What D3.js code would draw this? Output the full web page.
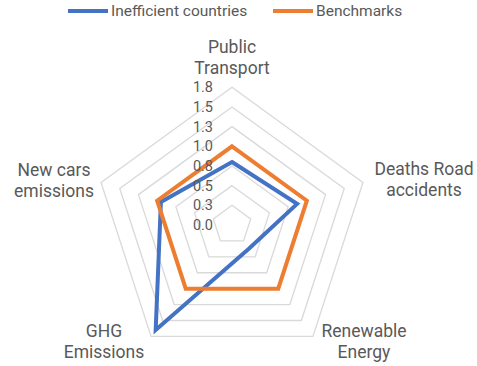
<!DOCTYPE html>
<html>
<head>
<meta charset="utf-8">
<script src="https://cdn.jsdelivr.net/npm/d3@7"></script>
<style>
  body { margin: 0; background: #fff; }
  text { font-family: Roboto, "Open Sans", sans-serif; fill: #595959; }
</style>
</head>
<body>
<svg id="radar"></svg>
<script>
// ---- DATA ---- //
const categories = ["Public Transport", "Deaths Road accidents", "Renewable Energy", "GHG Emissions", "New cars emissions"];
const categoryLines = [["Public", "Transport"], ["Deaths Road", "accidents"], ["Renewable", "Energy"], ["GHG", "Emissions"], ["New cars", "emissions"]];
const seriesNames = ["Inefficient countries", "Benchmarks"];
const inefficient = [0.8, 0.87, 0.37, 1.65, 0.95];
const benchmarks = [1.0, 1.0, 1.0, 1.0, 1.0];
const tickValues = [0, 0.25, 0.5, 0.75, 1.0, 1.25, 1.5, 1.75];
const tickLabels = ["0.0", "0.3", "0.5", "0.8", "1.0", "1.3", "1.5", "1.8"];
const colors = ["#4472C4", "#ED7D31"];

// ---- THE CHART ---- //
const width = 477, height = 366;
const cx = 232, cy = 225;

const svg = d3.select("#radar")
  .attr("width", width)
  .attr("height", height);

const g = svg.append("g")
  .attr("transform", "translate(" + cx + "," + cy + ")");

// radial scale
const rScale = d3.scaleLinear()
  .domain([0, 1.75])
  .range([0, 137.7]);

const angle = i => -Math.PI / 2 + i * 2 * Math.PI / categories.length;
const pt = (v, i) => [rScale(v) * Math.cos(angle(i)), rScale(v) * Math.sin(angle(i))];

// grid rings
g.selectAll(".ring")
  .data(tickValues.filter(t => t > 0))
  .enter().append("polygon")
    .attr("class", "ring")
    .attr("points", t => categories.map((c, i) => pt(t, i).join(",")).join(" "))
    .attr("fill", "none")
    .attr("stroke", "#D9D9D9")
    .attr("stroke-width", 1.3);

// series lines
const series = [inefficient, benchmarks];
g.selectAll(".series")
  .data(series)
  .enter().append("polygon")
    .attr("class", "series")
    .attr("points", d => d.map((v, i) => pt(v, i).join(",")).join(" "))
    .attr("fill", "none")
    .attr("stroke", (d, i) => colors[i])
    .attr("stroke-width", 4)
    .attr("stroke-linejoin", "miter");

// tick labels
g.selectAll(".tick")
  .data(tickValues)
  .enter().append("text")
    .attr("class", "tick")
    .attr("x", -19)
    .attr("y", t => -rScale(t))
    .attr("dy", "0.35em")
    .attr("text-anchor", "end")
    .style("font-size", "14.5px")
    .text((t, i) => tickLabels[i]);

// category labels, one text per line
const labelPos = [[232, 53], [424, 175], [364, 337], [104, 337], [54, 176]];
const labelRows = [];
categoryLines.forEach((lines, i) => lines.forEach((s, j) => {
  labelRows.push({text: s, x: labelPos[i][0], y: labelPos[i][1] + j * 20.5});
}));
svg.selectAll(".cat")
  .data(labelRows)
  .enter().append("text")
    .attr("class", "cat")
    .attr("text-anchor", "middle")
    .attr("x", d => d.x)
    .attr("y", d => d.y)
    .style("font-size", "17.5px")
    .text(d => d.text);

// legend
const legendX = [68, 273];
const legend = svg.selectAll(".legend")
  .data(seriesNames)
  .enter().append("g")
    .attr("class", "legend")
    .attr("transform", (d, i) => "translate(" + legendX[i] + ",11)");
legend.append("line")
  .attr("x1", 0).attr("x2", 40)
  .attr("stroke", (d, i) => colors[i])
  .attr("stroke-width", 4);
legend.append("text")
  .attr("x", 43)
  .attr("dy", "0.35em")
  .style("font-size", "15.5px")
  .text(d => d);
</script>
</body>
</html>
